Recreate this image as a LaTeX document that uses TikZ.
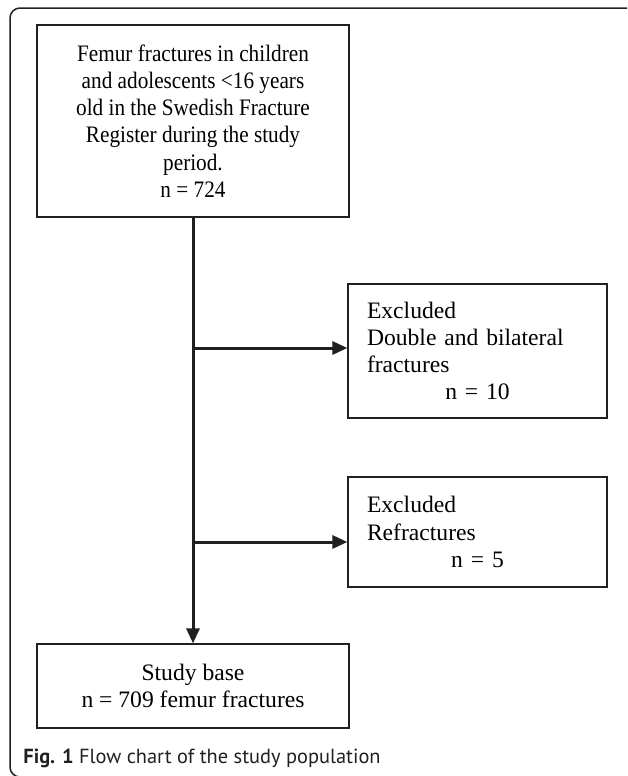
\documentclass[tikz,border=0pt]{standalone}
\usepackage{fontspec}
\setmainfont{Liberation Serif}
\newfontfamily\narrowserif[FakeStretch=0.9]{Liberation Serif}
\newfontfamily\capfont{PT Sans}
\usepackage{xcolor}
\definecolor{ink}{RGB}{35,31,32}
\usepackage{tikz}
\usetikzlibrary{arrows.meta,positioning}

\tikzset{
  flowbox/.style={draw=ink, line width=0.6pt, inner sep=0pt, font=\fontsize{11.8}{13.6}\selectfont},
  flowline/.style={draw=ink, line width=1.5pt},
  flowarrow/.style={flowline, -{Triangle[length=7.5pt,width=6.5pt]}}
}

\begin{document}
\begin{tikzpicture}[x=0.5pt, y=-0.5pt]
    \useasboundingbox (0,0) rectangle (627,776);
    \clip (0,0) rectangle (627,776);

    % Outer frame, open to the right and bottom
    \draw[ink, line width=0.75pt, rounded corners=5pt] (640,8) -- (10,8) -- (10,777) -- (40,777);

    % Boxes
    \node[flowbox, minimum width=156pt, minimum height=96pt, align=center,
          font=\narrowserif\fontsize{11.8}{13.6}\selectfont] (total) at (193,121)
        {Femur fractures in children\\and adolescents <16 years\\old in the Swedish Fracture\\Register during the study\\period.\\n = 724};
    \node[flowbox, minimum width=129.5pt, minimum height=67pt, text width=110.5pt, align=left] (double) at (477.5,351)
        {Excluded\\Double and bilateral\\fractures\\\makebox[\linewidth]{n = 10}};
    \node[flowbox, minimum width=129.5pt, minimum height=55pt, text width=110.5pt, align=left] (refrac) at (477.5,532)
        {Excluded\\Refractures\\\makebox[\linewidth]{n = 5}};
    \node[flowbox, minimum width=156pt, minimum height=42pt, align=center] (base) at (193,686)
        {Study base\\n = 709 femur fractures};

    % Connectors
    \coordinate (split1) at (193,348);
    \coordinate (split2) at (193,542);
    \draw[flowarrow] (total.south) -- (base.north);
    \draw[flowarrow] (split1) -- (split1 -| double.west);
    \draw[flowarrow] (split2) -- (split2 -| refrac.west);

    % Caption
    \node[anchor=base west, inner sep=0pt, text=ink, font=\capfont\fontsize{10.2}{12}\selectfont] (caption) at (23,763)
        {\textbf{Fig. 1} Flow chart of the study population};
\end{tikzpicture}
\end{document}
